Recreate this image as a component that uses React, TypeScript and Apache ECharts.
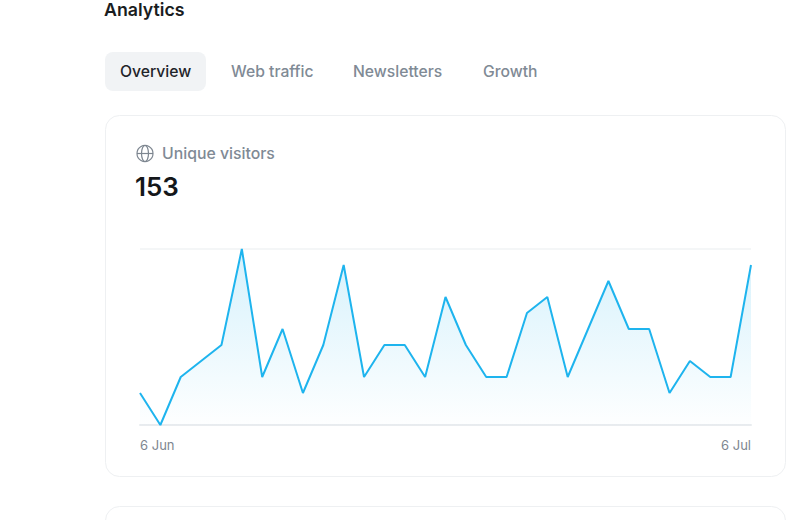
import React, { useEffect, useRef } from "react";
import * as echarts from "echarts";

const days = [
  "6 Jun", "7 Jun", "8 Jun", "9 Jun", "10 Jun", "11 Jun", "12 Jun", "13 Jun", "14 Jun", "15 Jun", "16 Jun",
  "17 Jun", "18 Jun", "19 Jun", "20 Jun", "21 Jun", "22 Jun", "23 Jun", "24 Jun", "25 Jun", "26 Jun", "27 Jun",
  "28 Jun", "29 Jun", "30 Jun", "1 Jul", "2 Jul", "3 Jul", "4 Jul", "5 Jul", "6 Jul",
];
const visitors = [2, 0, 3, 4, 5, 11, 3, 6, 2, 5, 10, 3, 5, 5, 3, 8, 5, 3, 3, 7, 8, 3, 6, 9, 6, 6, 2, 4, 3, 3, 10];
const tabs = ["Overview", "Web traffic", "Newsletters", "Growth"];
const tabX = [120, 231, 353, 483];
const font = "Inter, 'Noto Sans', sans-serif";

export default function App() {
  const ref = useRef<HTMLDivElement>(null);
  useEffect(() => {
    const chart = echarts.init(ref.current!, undefined, { renderer: "svg" });
    const border = "#eef0f2";
    chart.setOption({
      animation: false,
      backgroundColor: "#ffffff",
      grid: { left: 140, right: 49, top: 249, bottom: 95 },
      xAxis: {
        type: "category",
        data: days,
        boundaryGap: false,
        axisLine: { show: true, lineStyle: { color: "#e9ecef", width: 2 } },
        axisTick: { show: false },
        axisLabel: {
          color: "#7d8690",
          fontFamily: font,
          fontSize: 13,
          margin: 13,
          interval: (i: number) => i === 0 || i === days.length - 1,
          alignMinLabel: "left",
          alignMaxLabel: "right",
        },
      },
      yAxis: {
        type: "value",
        min: 0,
        max: 11,
        interval: 11,
        axisLine: { show: false },
        axisTick: { show: false },
        axisLabel: { show: false },
        splitLine: { show: true, lineStyle: { color: "#f1f3f5", width: 1.5 } },
      },
      series: [
        {
          type: "line",
          data: visitors,
          symbol: "none",
          z: 5,
          lineStyle: { color: "#1eb4ee", width: 2 },
          areaStyle: {
            color: {
              type: "linear", x: 0, y: 0, x2: 0, y2: 1,
              colorStops: [
                { offset: 0, color: "rgba(30,180,238,0.26)" },
                { offset: 1, color: "rgba(30,180,238,0.01)" },
              ],
            },
          },
        },
      ],
      graphic: [
        { type: "text", x: 104, y: 9, style: { text: "Analytics", fill: "#1a1d21", font: `600 17.8px ${font}`, textVerticalAlign: "middle" } },
        { type: "rect", shape: { x: 105, y: 52, width: 101, height: 39, r: 8 }, style: { fill: "#f1f3f5" } },
        ...tabs.map((t, i) => ({
          type: "text", x: tabX[i], y: 71.5, z: 2,
          style: { text: t, fill: i === 0 ? "#1f2429" : "#808a95", font: `500 15.7px ${font}`, textVerticalAlign: "middle" },
        })),
        { type: "rect", z: -10, shape: { x: 105.5, y: 115.5, width: 680, height: 361, r: 14 }, style: { fill: "#fff", stroke: border, lineWidth: 1 } },
        { type: "rect", z: -10, shape: { x: 105.5, y: 506.5, width: 680, height: 60, r: 14 }, style: { fill: "#fff", stroke: border, lineWidth: 1 } },
        { type: "circle", shape: { cx: 145, cy: 153.5, r: 8 }, style: { fill: "none", stroke: "#7d8690", lineWidth: 1.2 } },
        { type: "ellipse", shape: { cx: 145, cy: 153.5, rx: 3.5, ry: 8 }, style: { fill: "none", stroke: "#7d8690", lineWidth: 1.2 } },
        { type: "line", shape: { x1: 137, y1: 153.5, x2: 153, y2: 153.5 }, style: { stroke: "#7d8690", lineWidth: 1.2 } },
        { type: "text", x: 162, y: 153.5, style: { text: "Unique visitors", fill: "#808a95", font: `500 15.8px ${font}`, textVerticalAlign: "middle" } },
        { type: "text", x: 135, y: 186.5, style: { text: "153", fill: "#14171a", font: `600 26px ${font}`, textVerticalAlign: "middle" } },
      ],
    });
    return () => chart.dispose();
  }, []);
  return <div ref={ref} style={{ position: "absolute", left: 0, top: 0, width: 800, height: 520 }} />;
}
